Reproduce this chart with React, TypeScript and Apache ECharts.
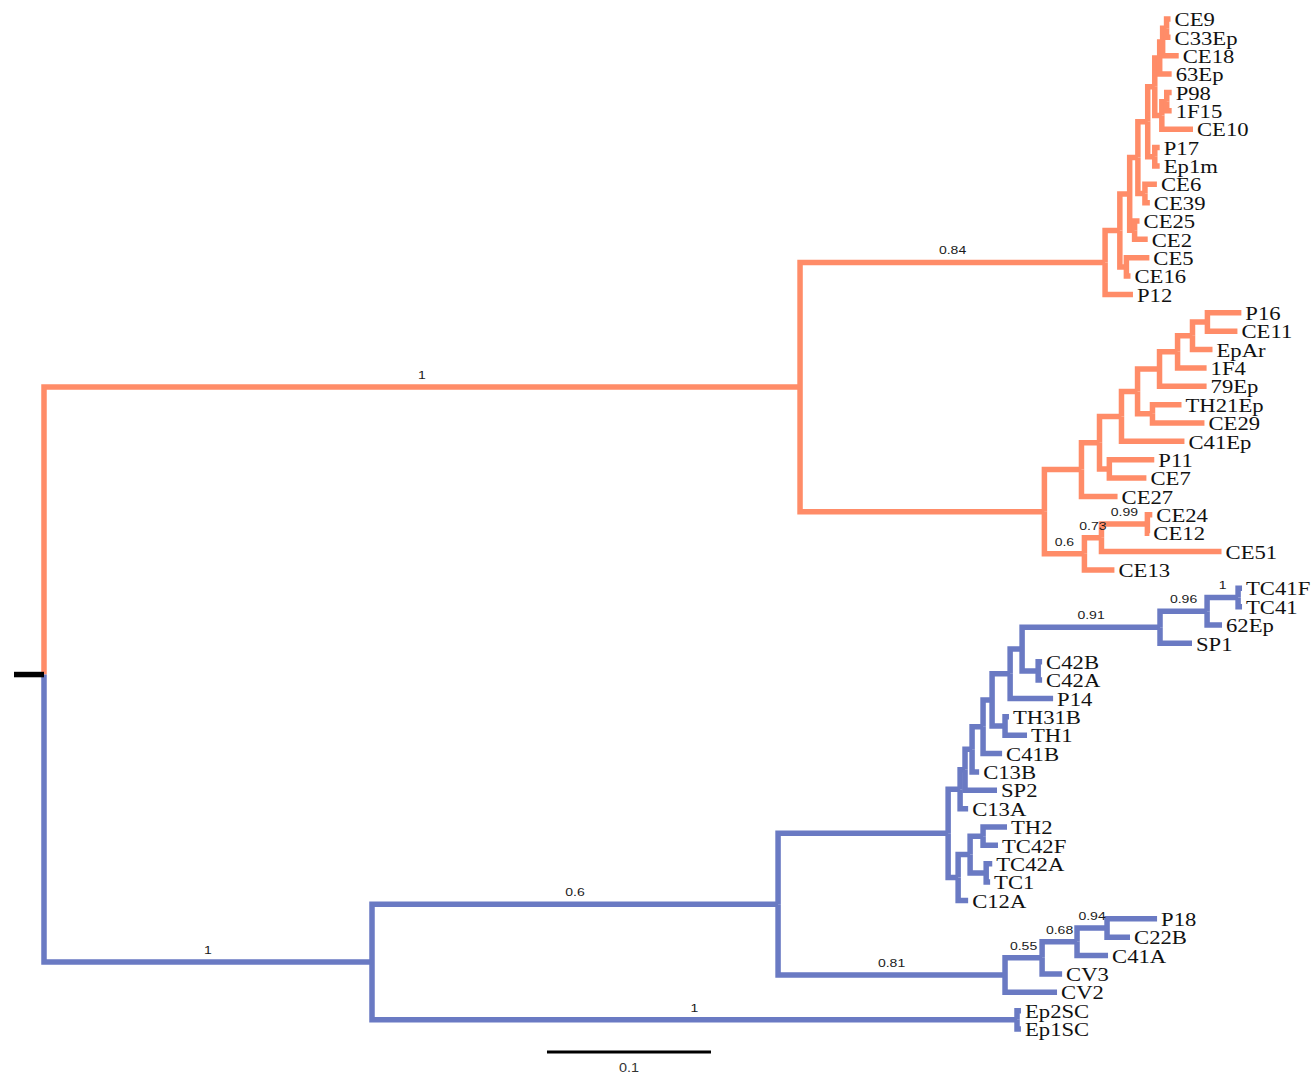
import React, { useEffect, useRef } from "react";
import * as echarts from "echarts";

// Tree edges: [child, parent, branch length, posterior support or null].
// Children of each node are listed from top to bottom.
type Edge = [string, string, number, number | null];

const ROOT = "root";
const rootStubLength = 0.0183;

const rootEdges: Edge[] = [
  ["n:A", ROOT, 0.461, 1],
  ["n:B", ROOT, 0.2, 1],
];

const orangeUpperEdges: Edge[] = [
  ["n:A1", "n:A", 0.186, 0.84],
  ["n:C", "n:A1", 0.009, null],
  ["n:D", "n:C", 0.006, null],
  ["n:E", "n:D", 0.005, null],
  ["n:F", "n:E", 0.006, null],
  ["n:H", "n:F", 0.0043, null],
  ["n:I", "n:H", 0.003, null],
  ["n:J", "n:I", 0.0018, null],
  ["n:K", "n:J", 0.0024, null],
  ["CE9", "n:K", 0.0024, null],
  ["C33Ep", "n:K", 0.0024, null],
  ["CE18", "n:J", 0.0098, null],
  ["63Ep", "n:I", 0.0073, null],
  ["n:M", "n:H", 0.0043, null],
  ["n:P98", "n:M", 0.003, null],
  ["P98", "n:P98", 0.003, null],
  ["1F15", "n:P98", 0.003, null],
  ["CE10", "n:M", 0.019, null],
  ["n:P17", "n:F", 0.0043, null],
  ["P17", "n:P17", 0.003, null],
  ["Ep1m", "n:P17", 0.003, null],
  ["n:CE6", "n:E", 0.0043, null],
  ["CE6", "n:CE6", 0.0073, null],
  ["CE39", "n:CE6", 0.003, null],
  ["n:CE25", "n:D", 0.003, null],
  ["CE25", "n:CE25", 0.003, null],
  ["CE2", "n:CE25", 0.008, null],
  ["n:CE5", "n:C", 0.004, null],
  ["CE5", "n:CE5", 0.014, null],
  ["CE16", "n:CE5", 0.0025, null],
  ["P12", "n:A1", 0.017, null],
];

const orangeLowerEdges: Edge[] = [
  ["n:A2", "n:A", 0.149, null],
  ["n:Q1", "n:A2", 0.0226, null],
  ["n:Q2", "n:Q1", 0.011, null],
  ["n:Q3", "n:Q2", 0.0134, null],
  ["n:N1", "n:Q3", 0.0098, null],
  ["n:N2", "n:N1", 0.0134, null],
  ["n:N3", "n:N2", 0.011, null],
  ["n:N4", "n:N3", 0.0091, null],
  ["n:P16", "n:N4", 0.0091, null],
  ["P16", "n:P16", 0.0207, null],
  ["CE11", "n:P16", 0.0183, null],
  ["EpAr", "n:N4", 0.0122, null],
  ["1F4", "n:N3", 0.0177, null],
  ["79Ep", "n:N2", 0.0287, null],
  ["n:TH21", "n:N1", 0.0091, null],
  ["TH21Ep", "n:TH21", 0.0177, null],
  ["CE29", "n:TH21", 0.0317, null],
  ["C41Ep", "n:Q3", 0.0384, null],
  ["n:P11", "n:Q2", 0.006, null],
  ["P11", "n:P11", 0.0274, null],
  ["CE7", "n:P11", 0.0226, null],
  ["CE27", "n:Q1", 0.022, null],
  ["n:R1", "n:A2", 0.0244, 0.6],
  ["n:R2", "n:R1", 0.0104, 0.73],
  ["n:R3", "n:R2", 0.028, 0.99],
  ["CE24", "n:R3", 0.003, null],
  ["CE12", "n:R3", 0.0012, null],
  ["CE51", "n:R2", 0.0732, null],
  ["CE13", "n:R1", 0.0183, null],
];

const blueUpperEdges: Edge[] = [
  ["n:B12", "n:B", 0.2476, 0.6],
  ["n:B1", "n:B12", 0.1037, null],
  ["n:U7", "n:B1", 0.0073, null],
  ["n:U6", "n:U7", 0.003, null],
  ["n:U5", "n:U6", 0.0043, null],
  ["n:U4", "n:U5", 0.0067, null],
  ["n:U3", "n:U4", 0.0055, null],
  ["n:U2", "n:U3", 0.011, null],
  ["n:U1", "n:U2", 0.0073, null],
  ["n:X", "n:U1", 0.0841, 0.91],
  ["n:Y", "n:X", 0.0287, 0.96],
  ["n:TC41", "n:Y", 0.0189, 1],
  ["TC41F", "n:TC41", 0.0024, null],
  ["TC41", "n:TC41", 0.0024, null],
  ["62Ep", "n:Y", 0.0091, null],
  ["SP1", "n:X", 0.0195, null],
  ["n:C42", "n:U1", 0.0098, null],
  ["C42B", "n:C42", 0.0024, null],
  ["C42A", "n:C42", 0.0024, null],
  ["P14", "n:U2", 0.0262, null],
  ["n:TH", "n:U3", 0.0079, null],
  ["TH31B", "n:TH", 0.0024, null],
  ["TH1", "n:TH", 0.0134, null],
  ["C41B", "n:U4", 0.0116, null],
  ["C13B", "n:U5", 0.0043, null],
  ["SP2", "n:U6", 0.0195, null],
  ["C13A", "n:U7", 0.0049, null],
  ["n:L0", "n:B1", 0.0061, null],
  ["n:L1", "n:L0", 0.0073, null],
  ["n:TH2", "n:L1", 0.0079, null],
  ["TH2", "n:TH2", 0.0146, null],
  ["TC42F", "n:TH2", 0.0091, null],
  ["n:TC42", "n:L1", 0.0098, null],
  ["TC42A", "n:TC42", 0.0037, null],
  ["TC1", "n:TC42", 0.0024, null],
  ["C12A", "n:L0", 0.0061, null],
];

const blueLowerEdges: Edge[] = [
  ["n:B2", "n:B12", 0.1384, 0.81],
  ["n:S1", "n:B2", 0.0226, 0.55],
  ["n:S2", "n:S1", 0.0213, 0.68],
  ["n:S3", "n:S2", 0.0183, 0.94],
  ["P18", "n:S3", 0.0305, null],
  ["C22B", "n:S3", 0.014, null],
  ["C41A", "n:S2", 0.0189, null],
  ["CV3", "n:S1", 0.0122, null],
  ["CV2", "n:B2", 0.0317, null],
  ["n:B3", "n:B", 0.3933, 1],
  ["Ep2SC", "n:B3", 0.0024, null],
  ["Ep1SC", "n:B3", 0.0024, null],
];

const scaleBarStart = 0.3067;
const scaleBarLength = 0.1;
const scaleBarLabel = "0.1";

const cladeColors = ["#FF8C68", "#6A7AC3", "#000000"];
const cladeRoots = ["n:A", "n:B"];

const allEdges: Edge[] = [
  ...rootEdges,
  ...orangeUpperEdges,
  ...orangeLowerEdges,
  ...blueUpperEdges,
  ...blueLowerEdges,
];

// Rectangular phylogram layout: x = distance from root, y = leaf row
function layoutTree(edges: Edge[]) {
  const children = new Map<string, string[]>();
  const parentOf = new Map<string, string>();
  const lengthOf = new Map<string, number>();
  for (const [child, parent, len] of edges) {
    if (!children.has(parent)) children.set(parent, []);
    children.get(parent)!.push(child);
    parentOf.set(child, parent);
    lengthOf.set(child, len);
  }
  const pos = new Map<string, { x: number; y: number }>();
  const leaves: string[] = [];
  const visit = (node: string, depth: number): number => {
    const kids = children.get(node);
    let y: number;
    if (!kids || kids.length === 0) {
      y = leaves.length;
      leaves.push(node);
    } else {
      const ys = kids.map((k) => visit(k, depth + (lengthOf.get(k) as number)));
      y = (Math.min(...ys) + Math.max(...ys)) / 2;
    }
    pos.set(node, { x: depth, y });
    return y;
  };
  visit(ROOT, 0);
  const cladeOf = (node: string): number => {
    let n: string | undefined = node;
    while (n !== undefined) {
      const idx = cladeRoots.indexOf(n);
      if (idx >= 0) return idx;
      n = parentOf.get(n);
    }
    return 2;
  };
  return { pos, leaves, cladeOf };
}

const PX_PER_UNIT = 1640;
const GRID_LEFT = 14;
const ROOT_OFFSET_PX = 30;
const CHART_W = 1314;
const CHART_H = 1077;

export default function App() {
  const ref = useRef<HTMLDivElement>(null);

  useEffect(() => {
    if (!ref.current) return;
    const chart = echarts.init(ref.current, null, { renderer: "svg" });
    const { pos, leaves, cladeOf } = layoutTree(allEdges);
    const rootPos = pos.get(ROOT)!;

    const branchData: number[][] = allEdges.map(([child, parent]) => {
      const p = pos.get(parent)!;
      const c = pos.get(child)!;
      return [p.x, p.y, c.x, c.y, cladeOf(child)];
    });
    branchData.push([rootPos.x - rootStubLength, rootPos.y, rootPos.x, rootPos.y, 2]);

    const tipData = leaves.map((name) => {
      const p = pos.get(name)!;
      return [p.x, p.y];
    });

    const supportEdges = allEdges.filter((e) => e[3] !== null);
    const supportData = supportEdges.map(([child, parent]) => {
      const p = pos.get(parent)!;
      const c = pos.get(child)!;
      return [(p.x + c.x) / 2, c.y];
    });

    const lastRow = leaves.length - 1;
    const scaleRow = lastRow + 1.25;
    const scaleData = [[scaleBarStart, scaleRow, scaleBarStart + scaleBarLength]];

    const gridW = CHART_W - GRID_LEFT;
    const xMin = -ROOT_OFFSET_PX / PX_PER_UNIT;
    const xMax = xMin + gridW / PX_PER_UNIT;

    chart.setOption({
      animation: false,
      backgroundColor: "#ffffff",
      grid: { left: GRID_LEFT, right: 0, top: 19, bottom: 48 },
      xAxis: { type: "value", min: xMin, max: xMax, show: false },
      yAxis: { type: "value", min: 0, max: lastRow, inverse: true, show: false },
      series: [
        {
          type: "custom",
          name: "branches",
          clip: false,
          silent: true,
          data: branchData,
          renderItem: (params: any, api: any) => {
            const px = api.value(0);
            const py = api.value(1);
            const cx = api.value(2);
            const cy = api.value(3);
            const p = api.coord([px, py]);
            const corner = api.coord([px, cy]);
            const c = api.coord([cx, cy]);
            const points = py === cy ? [p, c] : [p, corner, c];
            return {
              type: "polyline",
              shape: { points },
              style: {
                stroke: cladeColors[api.value(4)],
                lineWidth: 5.5,
                fill: null,
                lineJoin: "miter",
                lineCap: "butt",
              },
            };
          },
        },
        {
          type: "custom",
          name: "tips",
          clip: false,
          silent: true,
          data: tipData,
          renderItem: (params: any, api: any) => {
            const pt = api.coord([api.value(0), api.value(1)]);
            return {
              type: "text",
              x: pt[0] + 4,
              y: pt[1] + 1,
              scaleX: 1.26,
              style: {
                text: leaves[params.dataIndex],
                fill: "#111111",
                font: '18px "Liberation Serif", "Times New Roman", serif',
                align: "left",
                verticalAlign: "middle",
              },
            };
          },
        },
        {
          type: "custom",
          name: "support",
          clip: false,
          silent: true,
          data: supportData,
          renderItem: (params: any, api: any) => {
            const pt = api.coord([api.value(0), api.value(1)]);
            return {
              type: "text",
              x: pt[0],
              y: pt[1] - 6,
              scaleX: 1.22,
              style: {
                text: String(supportEdges[params.dataIndex][3]),
                fill: "#1a1a1a",
                font: '11.5px "Liberation Sans", Arial, sans-serif',
                align: "center",
                verticalAlign: "bottom",
              },
            };
          },
        },
        {
          type: "custom",
          name: "scale",
          clip: false,
          silent: true,
          data: scaleData,
          renderItem: (params: any, api: any) => {
            const a = api.coord([api.value(0), api.value(1)]);
            const b = api.coord([api.value(2), api.value(1)]);
            return {
              type: "group",
              children: [
                {
                  type: "line",
                  shape: { x1: a[0], y1: a[1], x2: b[0], y2: b[1] },
                  style: { stroke: "#000000", lineWidth: 3 },
                },
                {
                  type: "text",
                  x: (a[0] + b[0]) / 2,
                  y: a[1] + 16,
                  scaleX: 1.2,
                  style: {
                    text: scaleBarLabel,
                    fill: "#333333",
                    font: '12px "Liberation Sans", Arial, sans-serif',
                    align: "center",
                    verticalAlign: "middle",
                  },
                },
              ],
            };
          },
        },
      ],
    });

    return () => chart.dispose();
  }, []);

  return (
    <div
      ref={ref}
      style={{
        position: "fixed",
        left: 0,
        top: 0,
        width: CHART_W,
        height: CHART_H,
        background: "#ffffff",
      }}
    />
  );
}
